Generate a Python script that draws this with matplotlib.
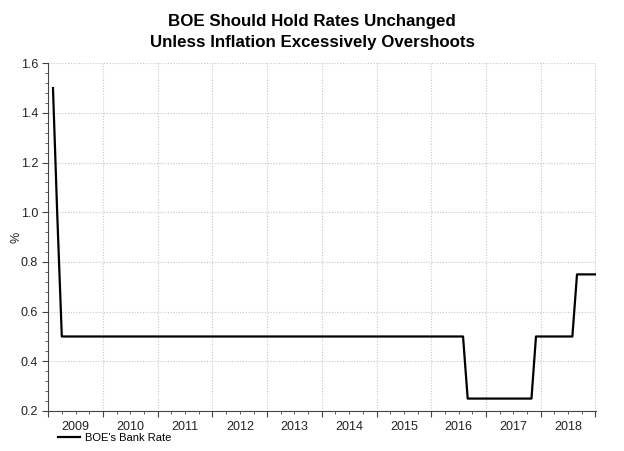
import matplotlib
matplotlib.use("Agg")
import matplotlib.pyplot as plt
import matplotlib.dates as mdates
import numpy as np
from datetime import datetime

# ------------------------------ Data ------------------------------

# month-end readings where the bank rate changes
rate_dates = ["2009-01-31", "2009-02-28", "2009-03-31", "2016-07-31", "2016-08-31",
              "2017-10-31", "2017-11-30", "2018-07-31", "2018-08-31", "2018-12-31"]
rate_values = [1.5, 1.0, 0.5, 0.5, 0.25, 0.25, 0.5, 0.5, 0.75, 0.75]

years = list(range(2009, 2019))
title_text = "BOE Should Hold Rates Unchanged\nUnless Inflation Excessively Overshoots"
series_name = "BOE's Bank Rate"

# ------------------------------ Plot ------------------------------

plt.rcParams['font.family'] = ['Liberation Sans', 'DejaVu Sans']

fig = plt.figure(figsize=(6.24, 4.51), dpi=100)
ax = fig.add_axes([0.0777, 0.0887, 0.877, 0.771])

dates = [datetime.strptime(d, "%Y-%m-%d") for d in rate_dates]
line, = ax.plot(dates, rate_values, color='black', lw=1.6, label=series_name)

ax.set_xlim(datetime(2009, 1, 1), datetime(2019, 1, 3))
ax.set_ylim(0.2, 1.6)

# year boundaries as major ticks, labels centered in each year
ax.xaxis.set_major_locator(mdates.YearLocator())
ax.xaxis.set_major_formatter(plt.NullFormatter())
ax.xaxis.set_minor_locator(mdates.MonthLocator(bymonth=[4, 7, 10]))
for yr in years:
    ax.text(datetime(yr, 7, 2), -0.03, str(yr), transform=ax.get_xaxis_transform(),
            ha='center', va='top', fontsize=9, color='#222222')

ax.set_yticks(np.arange(0.2, 1.61, 0.2))
ax.set_yticks(np.arange(0.2, 1.61, 0.04), minor=True)
ax.yaxis.set_major_formatter(plt.FuncFormatter(lambda v, p: f"{v:.1f}"))

ax.tick_params(axis='both', which='major', direction='out', length=4, width=0.8,
               color='#444444', labelsize=9, labelcolor='#222222')
ax.tick_params(axis='both', which='minor', direction='out', length=2, width=0.6,
               color='#444444')

ax.grid(True, which='major', color='#c8c8c8', linestyle=(0, (1, 1.5)), lw=0.8)
ax.set_axisbelow(True)

for side in ['top', 'right']:
    ax.spines[side].set_visible(False)
for side in ['left', 'bottom']:
    ax.spines[side].set_color('#444444')
    ax.spines[side].set_linewidth(0.8)

ax.set_ylabel('%', fontsize=9, color='#222222')
ax.yaxis.set_label_coords(-0.048, 0.5)

fig.suptitle(title_text, fontsize=12.2, fontweight='bold', y=0.968, linespacing=1.45)

fig.legend(handles=[line], loc='lower left', bbox_to_anchor=(0.077, -0.005),
           frameon=False, fontsize=8, handlelength=2.0, handletextpad=0.4)

fig.savefig("out.png", dpi=100)
